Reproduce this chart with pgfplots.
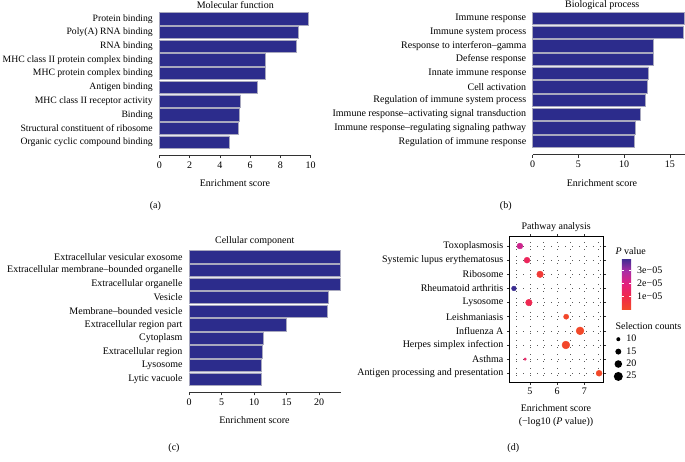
\documentclass[border=0pt]{standalone}
\usepackage{fontspec}
\setmainfont{Liberation Serif}
\usepackage{pgfplots}
\usepackage{pgfplotstable}
\pgfplotsset{compat=1.18}
\usetikzlibrary{calc}

\definecolor{barblue}{RGB}{44,44,140}
\definecolor{baredge}{RGB}{168,168,190}
\definecolor{axgray}{RGB}{50,50,50}
\definecolor{gridc}{RGB}{90,90,90}

\pgfplotsset{
  every axis/.append style={font=\fontsize{10bp}{12bp}\selectfont},
  /pgf/number format/assume math mode=true,
  gobar/.style={
    scale only axis, anchor=south west,
    xbar, bar width=0.9,
    axis x line*=bottom, axis y line*=left,
    y axis line style={draw=none},
    ytick style={draw=none},
    x axis line style={axgray, line width=0.6pt},
    xtick style={axgray, line width=0.6pt},
    tick align=outside, major tick length=3bp,
    xmin=0, ytick={1,...,10},
    ymin=0.06, ymax=10.6,
    clip=false,
  },
  gobarplot/.style={fill=barblue, draw=baredge, line width=0.6pt},
  szleg/.style={legend image code/.code={
      \path[draw=none, fill=none] (-4bp,-4.6bp) rectangle (6bp,4.6bp);
      \fill[black, draw=none] (0bp,0bp) circle[radius=#1];}},
}

% pathway analysis: score, row, p value, selection count
\pgfplotstableread{
x    y  p        n
4.63 10 2.34e-5  15
4.89 9  1.29e-5  15
5.37 8  4.27e-6  17
4.41 7  3.89e-5  12
4.96 6  1.10e-5  17
6.33 5  4.68e-7  13
6.84 4  1.45e-7  21
6.32 3  4.79e-7  21
4.82 2  1.51e-5  7
7.54 1  2.88e-8  15
}\pathway

\begin{document}
\begin{tikzpicture}[font=\fontsize{10bp}{12bp}\selectfont]
\path[use as bounding box] (0,0) rectangle (685bp,-462bp);

% (a) molecular function
\begin{axis}[gobar, at={(159.3bp,-155bp)}, width=151.4bp, height=144.4bp,
  xmax=10, xtick={0,2,...,10},
  yticklabel style={font=\fontsize{9.7bp}{12bp}\selectfont},
  yticklabels={Organic cyclic compound binding, Structural constituent of ribosome,
    Binding, MHC class II receptor activity, Antigen binding,
    MHC protein complex binding, MHC class II protein complex binding,
    RNA binding, Poly(A) RNA binding, Protein binding}]
\addplot[gobarplot] coordinates {(4.63,1) (5.24,2) (5.31,3) (5.37,4) (6.47,5)
  (7.03,6) (7.03,7) (9.07,8) (9.18,9) (9.84,10)};
\end{axis}

% (b) biological process
\begin{axis}[gobar, at={(532.7bp,-154.5bp)}, width=151.9bp, height=144.4bp,
  xmax=16.6, xtick={0,5,10,15},
  yticklabels={Regulation of immune response, Immune response–regulating signaling pathway,
    Immune response–activating signal transduction, Regulation of immune system process,
    Cell activation, Innate immune response, Defense response,
    Response to interferon–gamma, Immune system process, Immune response}]
\addplot[gobarplot] coordinates {(11.10,1) (11.18,2) (11.73,3) (12.31,4) (12.53,5)
  (12.68,6) (13.19,7) (13.22,8) (16.46,9) (16.57,10)};
\end{axis}

% (c) cellular component
\begin{axis}[gobar, at={(189bp,-392.3bp)}, width=152.1bp, height=143.6bp,
  xmax=23.4, xtick={0,5,...,20}, ymin=0.02,
  yticklabels={Lytic vacuole, Lysosome, Extracellular region, Cytoplasm,
    Extracellular region part, Membrane–bounded vesicle, Vesicle,
    Extracellular organelle, Extracellular membrane–bounded organelle,
    Extracellular vesicular exosome}]
\addplot[gobarplot] coordinates {(11.18,1) (11.18,2) (11.28,3) (11.49,4) (14.92,5)
  (21.33,6) (21.43,7) (23.30,8) (23.34,9) (23.34,10)};
\end{axis}

% (d) pathway analysis
\begin{axis}[scale only axis, anchor=south west, at={(509.3bp,-382.3bp)},
  width=94.4bp, height=145.6bp,
  xmin=4.24, xmax=7.71, ymin=0.36, ymax=10.66,
  xtick={5,6,7}, minor xtick={4.5,5.5,6.5,7.5},
  ytick={1,...,10},
  yticklabels={Antigen processing and presentation, Asthma, Herpes simplex infection,
    Influenza A, Leishmaniasis, Lysosome, Rheumatoid arthritis, Ribosome,
    Systemic lupus erythematosus, Toxoplasmosis},
  grid=both,
  major grid style={gridc, line width=0.7pt, dash pattern=on 0.7pt off 6.3pt},
  minor grid style={gridc, line width=0.7pt, dash pattern=on 0.7pt off 6.3pt},
  axis line style={black, line width=0.9pt},
  tick align=outside, major tick length=2.5bp, minor tick length=0pt,
  tick style={axgray, line width=0.6pt},
  colormap={pv}{rgb255=(242,72,40) rgb255=(240,40,75) rgb255=(228,32,125)
    rgb255=(170,45,165) rgb255=(58,45,145)},
  point meta min=0, point meta max=3.9e-5,
  colorbar,
  colorbar style={
    at={($(parent axis.south west)+(104bp,124bp)$)}, anchor=north west,
    width=9.4bp, height=50.7bp,
    ytick={1e-5,2e-5,3e-5}, yticklabels={1e−05,2e−05,3e−05},
    scaled y ticks=false,
    axis line style={draw=none},
    tick align=inside, major tick length=2bp,
    ytick style={white, line width=0.6pt},
    yticklabel style={xshift=2.5bp},
  },
  legend style={at={(1.105,0.339)}, anchor=north west, draw=none, fill=none,
    row sep=0.3bp, inner sep=0pt},
  legend cell align=left,
]
\addplot[scatter, only marks, mark=*, forget plot, point meta=explicit,
  scatter/use mapped color={draw=mapped color, fill=mapped color},
  visualization depends on={\thisrow{n} \as \cnt},
  scatter/@pre marker code/.append style={/tikz/mark size={-2.3+1.36*sqrt(\cnt)}}]
  table[x=x, y=y, meta=p] {\pathway};
\addlegendimage{szleg=2.0bp}\addlegendentry{10}
\addlegendimage{szleg=2.97bp}\addlegendentry{15}
\addlegendimage{szleg=3.78bp}\addlegendentry{20}
\addlegendimage{szleg=4.5bp}\addlegendentry{25}
\end{axis}

% titles, axis labels, panel letters
\node at (235.3bp,-5bp) {Molecular function};
\node at (602.2bp,-5bp) {Biological process};
\node at (254.7bp,-241bp) {Cellular component};
\node at (556.2bp,-227.3bp) {Pathway analysis};
\node at (235bp,-182.7bp) {Enrichment score};
\node at (602bp,-182.7bp) {Enrichment score};
\node at (254.5bp,-420bp) {Enrichment score};
\node at (556bp,-408bp) {Enrichment score};
\node at (556bp,-421.7bp) {(−log10 ({\itshape P} value))};
\node[anchor=west] at (612bp,-251bp) {{\itshape P} value};
\node[anchor=west] at (612bp,-326bp) {Selection counts};
\node at (155.3bp,-205.7bp) {(a)};
\node at (505.8bp,-205.7bp) {(b)};
\node at (174bp,-447.7bp) {(c)};
\node at (513.3bp,-447.7bp) {(d)};
\end{tikzpicture}
\end{document}
